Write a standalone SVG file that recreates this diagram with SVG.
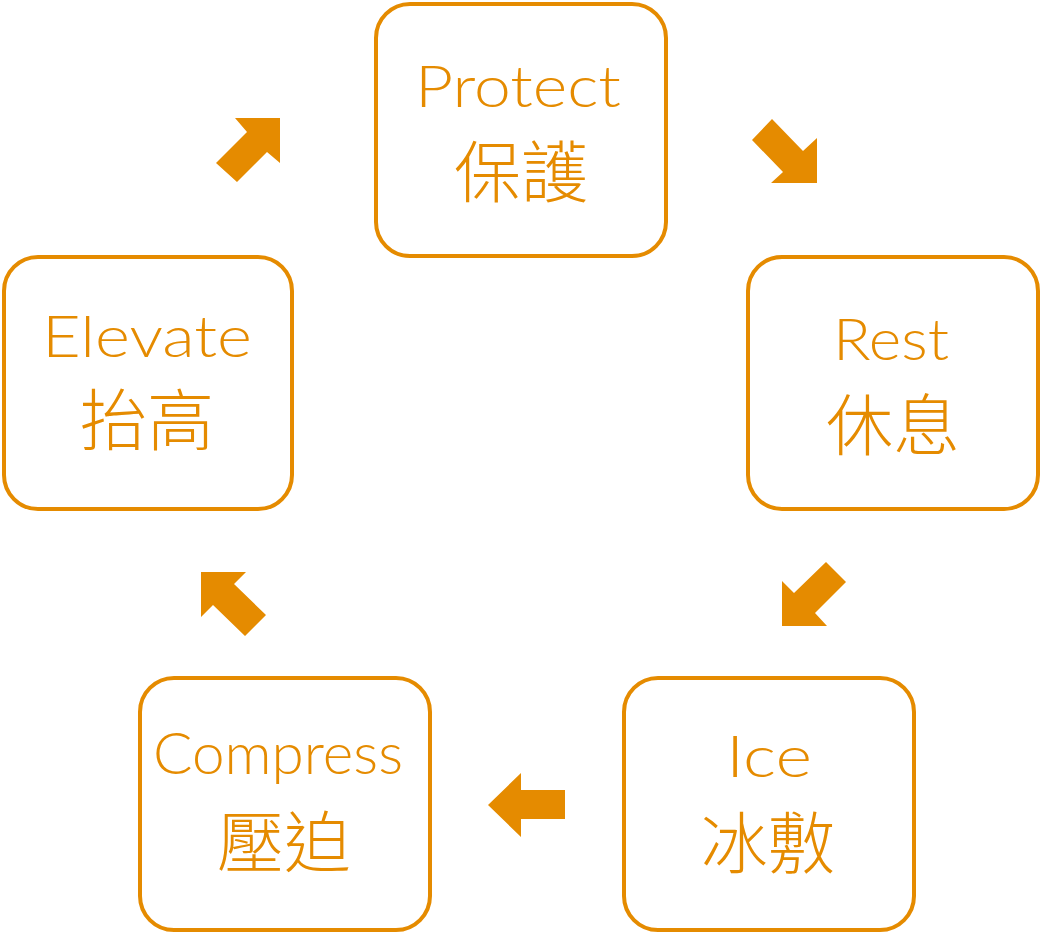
<svg xmlns="http://www.w3.org/2000/svg" width="1042" height="934" viewBox="0 0 1042 934">
<style>
.box{fill:#fff;stroke:#E58B00;stroke-width:4}
.en{font-family:Lato,"Liberation Sans",sans-serif;font-size:58px;font-weight:300;fill:#E58B00;text-anchor:middle}
.zh{font-family:"Noto Sans CJK TC","Noto Sans CJK SC",sans-serif;font-size:67px;font-weight:300;fill:#E58B00;text-anchor:middle}
.arr{fill:#E58B00}
</style>
<rect width="1042" height="934" fill="#fff"/>
<g id="connectors">
<polygon class="arr" points="216,163 247,132 235,118 280,118 280,163 267,152 237,182"/>
<polygon class="arr" points="772,119 803,151 817,138 817,183 771,183 783,172 752,140"/>
<polygon class="arr" points="826,562 846,582 815,613 827,626 782,626 782,581 794,593"/>
<polygon class="arr" points="488,805 521,773 521,790 565,790 565,819 521,819 521,837"/>
<polygon class="arr" points="201,572 246,572 234,584 266,615 245,636 213,605 201,617"/>
</g>
<g id="protect">
<rect class="box" x="376" y="4" width="290" height="252" rx="34"/>
<text class="en" x="518" y="107" textLength="206" lengthAdjust="spacingAndGlyphs">Protect</text>
<text class="zh" x="521" y="197">保護</text>
</g>
<g id="rest">
<rect class="box" x="748" y="257" width="290" height="252" rx="34"/>
<text class="en" x="891" y="360" textLength="116" lengthAdjust="spacingAndGlyphs">Rest</text>
<text class="zh" x="893" y="450">休息</text>
</g>
<g id="ice">
<rect class="box" x="624" y="678" width="290" height="252" rx="34"/>
<text class="en" x="769" y="777" textLength="86" lengthAdjust="spacingAndGlyphs">Ice</text>
<text class="zh" x="768" y="868">冰敷</text>
</g>
<g id="compress">
<rect class="box" x="140" y="678" width="290" height="252" rx="34"/>
<text class="en" x="278" y="774" textLength="250" lengthAdjust="spacingAndGlyphs">Compress</text>
<text class="zh" x="284" y="867">壓迫</text>
</g>
<g id="elevate">
<rect class="box" x="4" y="257" width="288" height="252" rx="34"/>
<text class="en" x="147" y="357" textLength="210" lengthAdjust="spacingAndGlyphs">Elevate</text>
<text class="zh" x="147" y="445">抬高</text>
</g>
</svg>
